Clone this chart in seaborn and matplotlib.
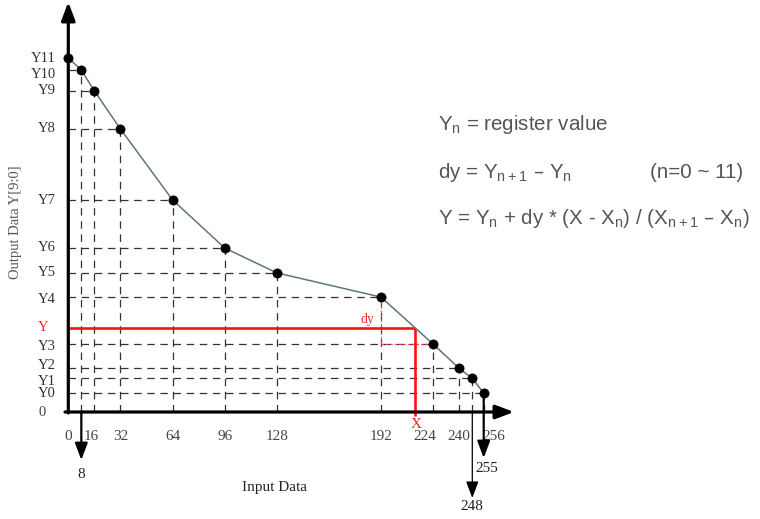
import numpy as np
import matplotlib
matplotlib.use("Agg")
import matplotlib.pyplot as plt
import seaborn as sns

# Piecewise-linear transfer curve: input code -> output register value
input_codes = [0, 8, 16, 32, 64, 96, 128, 192, 224, 240, 248, 255]
register_values = [1023, 988, 928, 818, 613, 474, 402, 332, 196, 126, 97, 55]
register_names = ["Y11", "Y10", "Y9", "Y8", "Y7", "Y6", "Y5", "Y4", "Y3", "Y2", "Y1", "Y0"]
x_tick_values = [0, 16, 32, 64, 96, 128, 192, 224, 240, 256]
down_arrow_codes = [8, 248, 255]
sample_x = 213

sns.set_style("white")
plt.rcParams["font.family"] = ["Liberation Serif", "DejaVu Serif"]
plt.rcParams["mathtext.default"] = "regular"

W, H = 760, 519
fig = plt.figure(figsize=(W / 100, H / 100), dpi=100)
ax = fig.add_axes([0, 0, 1, 1])

# pixel geometry of the drawing area
ORG_X, ORG_Y = 68.3, 412.0          # pixel position of the origin
PX_PER_X = 1.629                    # pixels per input code
PX_PER_Y = 354.0 / 1023.0           # pixels per output unit
ax.set_xlim(-ORG_X / PX_PER_X, (W - ORG_X) / PX_PER_X)
ax.set_ylim(-(H - ORG_Y) / PX_PER_Y, ORG_Y / PX_PER_Y)
ax.axis("off")


def dx(px):
    return (px - ORG_X) / PX_PER_X


def dy(py):
    return (ORG_Y - py) / PX_PER_Y


# value at the sample input, from the interpolation formula
seg = np.searchsorted(input_codes, sample_x) - 1
x_n, x_n1 = input_codes[seg], input_codes[seg + 1]
y_n, y_n1 = register_values[seg], register_values[seg + 1]
sample_y = y_n + (y_n1 - y_n) * (sample_x - x_n) / (x_n1 - x_n)

grid_kw = dict(color="#333333", lw=0.9, ls=(0, (6, 4.5)), zorder=2)
for xv, yv in zip(input_codes, register_values):
    if xv > 0:
        ax.plot([xv, xv], [0, yv], **grid_kw)
        ax.plot([0, xv], [yv, yv], **grid_kw)

# sample point construction in red
ax.plot([0, sample_x], [sample_y, sample_y], color="#ff1010", lw=1.9, zorder=4,
        solid_capstyle="butt")
ax.plot([sample_x, sample_x], [sample_y, dy(416)], color="#ff1010", lw=1.9, zorder=4,
        solid_capstyle="butt")
ax.plot([x_n, x_n], [y_n, y_n1], color="#ff4a6a", lw=0.9, ls=(0, (2, 1.5)), zorder=3)
ax.plot([x_n, x_n1], [y_n1, y_n1], color="#ff4a6a", lw=0.9, ls=(0, (2, 1.5)), zorder=3)

# transfer curve and register points
sns.lineplot(x=input_codes, y=register_values, ax=ax, color="#5f7676", lw=1.1,
             sort=False, estimator=None, zorder=5)
sns.scatterplot(x=input_codes, y=register_values, ax=ax, color="black", s=44,
                edgecolor="black", linewidth=0.5, zorder=6)

# axes with arrowheads
head = "-|>,head_length=0.85,head_width=0.32"
ax.annotate("", xy=(0, dy(2)), xytext=(0, dy(ORG_Y + 1)),
            arrowprops=dict(arrowstyle=head, color="black", lw=2.3,
                            mutation_scale=13, shrinkA=0, shrinkB=0), zorder=7)
ax.annotate("", xy=(dx(514), 0), xytext=(dx(65), 0),
            arrowprops=dict(arrowstyle=head, color="black", lw=2.3,
                            mutation_scale=13, shrinkA=0, shrinkB=0), zorder=7)

# downward arrows to the end codes
arrow_spec = {8: (0, 460, 1.6), 248: (0, 498, 0.9), 255: (register_values[-1], 458, 1.6)}
label_py = {8: 474, 248: 507, 255: 469}
for code in down_arrow_codes:
    start, tip, lw = arrow_spec[code]
    ax.annotate("", xy=(code, dy(tip)), xytext=(code, start),
                arrowprops=dict(arrowstyle=head, color="black", lw=lw,
                                mutation_scale=12, shrinkA=0, shrinkB=0), zorder=7)
    ax.text(code + (2 if code == 255 else 0), dy(label_py[code]), str(code),
            ha="center", va="center", fontsize=11, color="#222222", zorder=8)

# x tick labels
nudge = {16: -2, 224: -5, 256: 5}
for v in x_tick_values:
    ax.text(v + nudge.get(v, 0), dy(437), str(v), ha="center", va="center",
            fontsize=11, color="#444444", zorder=1)

# y register labels (small pixel offsets keep crowded names apart)
label_shift_px = {"Y10": 4, "Y7": 1, "Y4": 2, "Y3": 2, "Y2": -3, "Y1": 3, "Y0": 1}
for name, yv in zip(register_names, register_values):
    ax.text(dx(56), yv - label_shift_px.get(name, 0) / PX_PER_Y, name,
            ha="right", va="center", fontsize=10.5, color="#333333")
ax.text(dx(42), dy(413), "0", ha="center", va="center", fontsize=10.5, color="#444444")
ax.text(dx(43), sample_y, "Y", ha="center", va="center", fontsize=10.5, color="#ff2020")
ax.text(sample_x + 0.5, dy(425), "X", ha="center", va="center", fontsize=11,
        color="#ff2020")
ax.text(dx(368), dy(320), "dy", ha="center", va="center", fontsize=10,
        color="#ff3030")

# axis titles
ax.text(dx(275), dy(488), "Input Data", ha="center", va="center", fontsize=11,
        color="#222222")
ax.text(dx(16), dy(222), "Output Data Y[9:0]", ha="center", va="center",
        rotation=90, fontsize=10.5, color="#555555")

# formula block
sans = ["Liberation Sans", "DejaVu Sans"]
fkw = dict(ha="left", va="center", fontsize=14.8, color="#555555", family=sans)
fig.text(438 / W, 1 - 125 / H, r"$Y_n$ = register value", **fkw)
fig.text(438 / W, 1 - 172 / H, r"dy = $Y_{n+1}$ – $Y_n$", **fkw)
fig.text(650 / W, 1 - 172 / H, "(n=0 ~ 11)", **fkw)
fig.text(438 / W, 1 - 218 / H,
         r"Y = $Y_n$ + dy * (X - $X_n$) / ($X_{n+1}$ – $X_n$)", **fkw)

fig.savefig("out.png", dpi=100, facecolor="white")
